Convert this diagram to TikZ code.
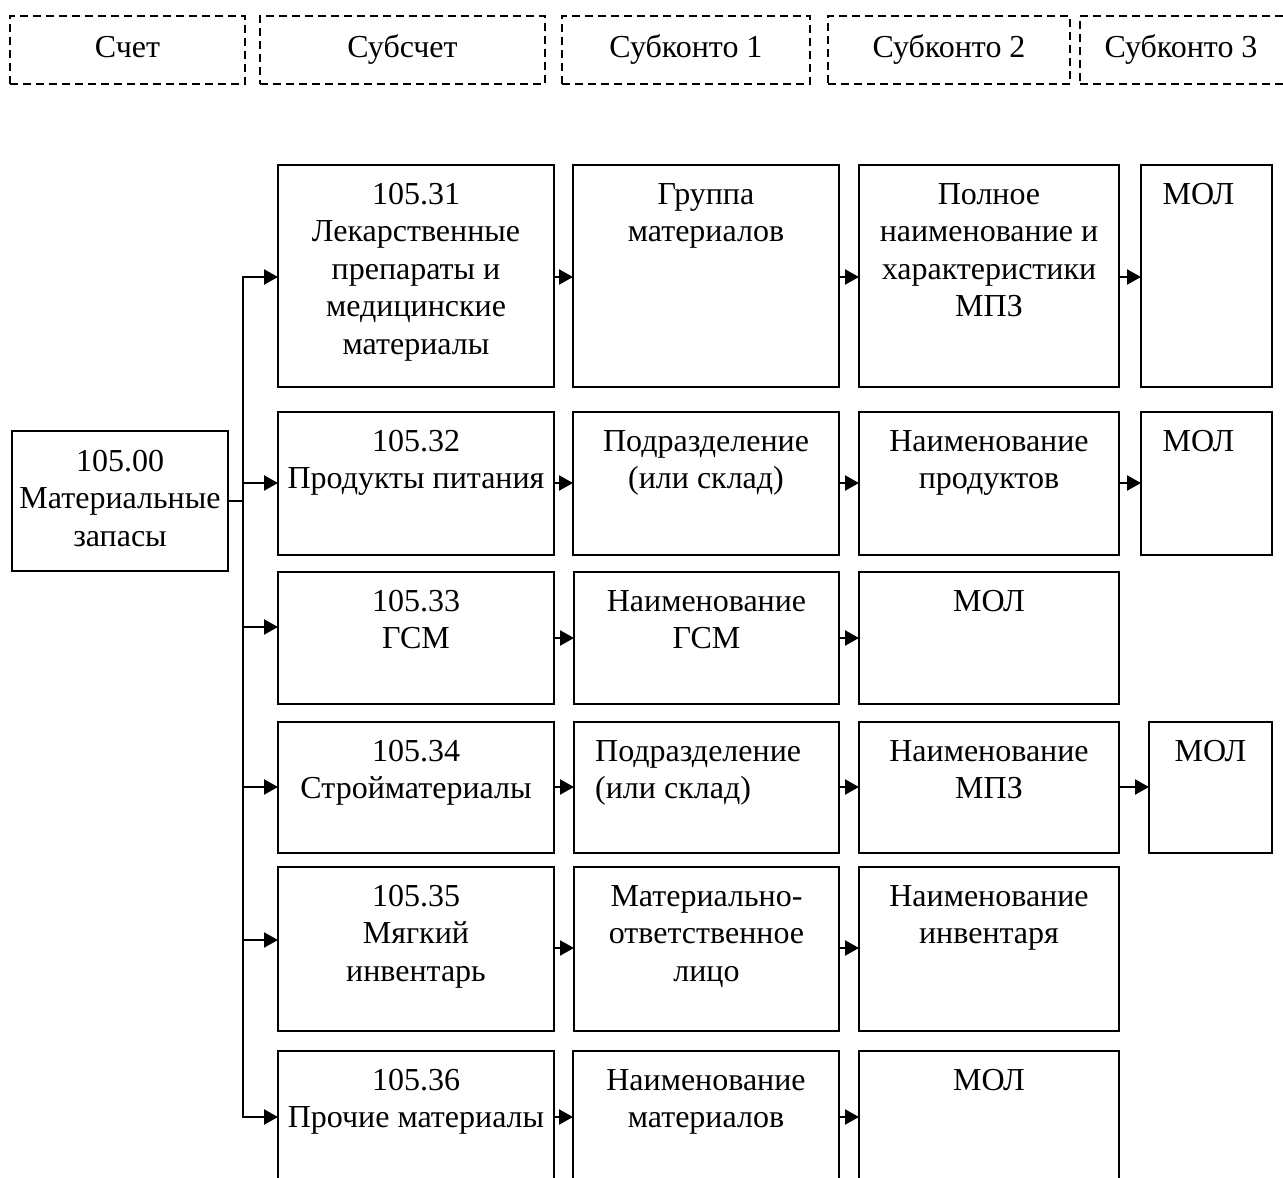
\documentclass[tikz,border=0pt]{standalone}
\usepackage{fontspec}
\setmainfont{Liberation Serif}
\usetikzlibrary{arrows.meta}
\newcommand\mybox[5]{\node[box, minimum width={(#4-#2)*1pt}, minimum height={(#5-#3)*1pt}] (#1) at (#2,#3) {};}
\newcommand\myhdr[6]{\node[hdr, minimum width={(#4-#2)*1pt}, minimum height={(#5-#3)*1pt}] (#1) at (#2,#3) {#6};}
\newcommand\mytext[2]{\node[txt] (#1-t) at ([yshift=-12.75pt]#1.north) {\strut #2};}
\begin{document}
\begin{tikzpicture}[x=1pt,y=-1pt,
  box/.style={draw, line width=2.3pt, anchor=north west, inner sep=0pt, outer sep=0pt},
  hdr/.style={draw, dash pattern=on 8pt off 5pt, line width=2pt, anchor=north west, inner sep=0pt, outer sep=0pt,
    font=\fontsize{32}{37.5}\selectfont, text height=22pt, text depth=7pt},
  txt/.style={font=\fontsize{32}{37.5}\selectfont, align=center, inner sep=0pt, anchor=north},
  conn/.style={line width=2.3pt},
  arr/.style={line width=2.3pt, -{Triangle[length=14pt,width=15pt]}},
]
\path[use as bounding box, clip] (0,0) rectangle (1283,1178);
\fill[white] (0,0) rectangle (1283,1178);

% header
\myhdr{h1}{10}{16}{245}{84}{Счет}
\myhdr{h2}{260}{16}{545}{84}{Субсчет}
\myhdr{h3}{562}{16}{810}{84}{Субконто 1}
\myhdr{h4}{828}{16}{1070}{84}{Субконто 2}
\node[hdr, minimum width=230pt, minimum height=68pt] (h5) at (1080,16) {};
\node[font=\fontsize{32}{37.5}\selectfont, text height=22pt, text depth=7pt, inner sep=0pt] (h5t) at (1181,50) {Субконто 3};

% root
\mybox{root}{12}{431}{228}{571}
\node[txt] (root-t) at ([yshift=-13.75pt]root.north) {\strut 105.00\\Материальные\\запасы};

% row 1
\mybox{r1c1}{278}{165}{554}{387}
\mybox{r1c2}{573}{165}{839}{387}
\mybox{r1c3}{859}{165}{1119}{387}
\mybox{r1c4}{1141}{165}{1272}{387}
% row 2
\mybox{r2c1}{278}{412}{554}{555}
\mybox{r2c2}{573}{412}{839}{555}
\mybox{r2c3}{859}{412}{1119}{555}
\mybox{r2c4}{1141}{412}{1272}{555}
% row 3
\mybox{r3c1}{278}{572}{554}{704}
\mybox{r3c2}{574}{572}{839}{704}
\mybox{r3c3}{859}{572}{1119}{704}
% row 4
\mybox{r4c1}{278}{722}{554}{853}
\mybox{r4c2}{574}{722}{839}{853}
\mybox{r4c3}{859}{722}{1119}{853}
\mybox{r4c4}{1149}{722}{1272}{853}
% row 5
\mybox{r5c1}{278}{867}{554}{1031}
\mybox{r5c2}{574}{867}{839}{1031}
\mybox{r5c3}{859}{867}{1119}{1031}
% row 6 (cut by the lower edge)
\mybox{r6c1}{278}{1051}{554}{1240}
\mybox{r6c2}{573}{1051}{839}{1240}
\mybox{r6c3}{859}{1051}{1119}{1240}

% texts
\mytext{r1c1}{105.31\\Лекарственные\\препараты и\\медицинские\\материалы}
\mytext{r1c2}{Группа\\материалов}
\mytext{r1c3}{Полное\\наименование и\\характеристики\\МПЗ}
\node[txt] (r1c4-t) at ([xshift=-8pt,yshift=-12.75pt]r1c4.north) {\strut МОЛ};
\mytext{r2c1}{105.32\\Продукты питания}
\mytext{r2c2}{Подразделение\\(или склад)}
\mytext{r2c3}{Наименование\\продуктов}
\node[txt] (r2c4-t) at ([xshift=-8pt,yshift=-12.75pt]r2c4.north) {\strut МОЛ};
\mytext{r3c1}{105.33\\ГСМ}
\mytext{r3c2}{Наименование\\ГСМ}
\mytext{r3c3}{МОЛ}
\mytext{r4c1}{105.34\\Стройматериалы}
\node[txt, align=left, anchor=north west] (r4c2-t) at ([xshift=21pt,yshift=-12.75pt]r4c2.north west) {\strut Подразделение\\(или склад)};
\mytext{r4c3}{Наименование\\МПЗ}
\mytext{r4c4}{МОЛ}
\mytext{r5c1}{105.35\\Мягкий\\инвентарь}
\mytext{r5c2}{Материально-\\ответственное\\лицо}
\mytext{r5c3}{Наименование\\инвентаря}
\mytext{r6c1}{105.36\\Прочие материалы}
\mytext{r6c2}{Наименование\\материалов}
\mytext{r6c3}{МОЛ}

% bus
\coordinate (j1) at (243,277);
\coordinate (j2) at (243,483);
\coordinate (j3) at (243,627);
\coordinate (j4) at (243,787);
\coordinate (j5) at (243,940);
\coordinate (j6) at (243,1117);
\draw[conn] (root.east) -- (root.east -| j1);
\draw[conn, line cap=rect] (j1) -- (j6);
\draw[arr] (j1) -- (j1 -| r1c1.west);
\draw[arr] (j2) -- (j2 -| r2c1.west);
\draw[arr] (j3) -- (j3 -| r3c1.west);
\draw[arr] (j4) -- (j4 -| r4c1.west);
\draw[arr] (j5) -- (j5 -| r5c1.west);
\draw[arr] (j6) -- (j6 -| r6c1.west);

% row links
\coordinate (a1) at (0,277);
\coordinate (a2) at (0,483);
\coordinate (a3) at (0,638);
\coordinate (a4) at (0,787);
\coordinate (a5) at (0,948);
\coordinate (a6) at (0,1117);
\draw[arr] (r1c1.east |- a1) -- (r1c2.west |- a1);
\draw[arr] (r1c2.east |- a1) -- (r1c3.west |- a1);
\draw[arr] (r1c3.east |- a1) -- (r1c4.west |- a1);
\draw[arr] (r2c1.east |- a2) -- (r2c2.west |- a2);
\draw[arr] (r2c2.east |- a2) -- (r2c3.west |- a2);
\draw[arr] (r2c3.east |- a2) -- (r2c4.west |- a2);
\draw[arr] (r3c1.east |- a3) -- (r3c2.west |- a3);
\draw[arr] (r3c2.east |- a3) -- (r3c3.west |- a3);
\draw[arr] (r4c1.east |- a4) -- (r4c2.west |- a4);
\draw[arr] (r4c2.east |- a4) -- (r4c3.west |- a4);
\draw[arr] (r4c3.east |- a4) -- (r4c4.west |- a4);
\draw[arr] (r5c1.east |- a5) -- (r5c2.west |- a5);
\draw[arr] (r5c2.east |- a5) -- (r5c3.west |- a5);
\draw[arr] (r6c1.east |- a6) -- (r6c2.west |- a6);
\draw[arr] (r6c2.east |- a6) -- (r6c3.west |- a6);
\end{tikzpicture}
\end{document}
